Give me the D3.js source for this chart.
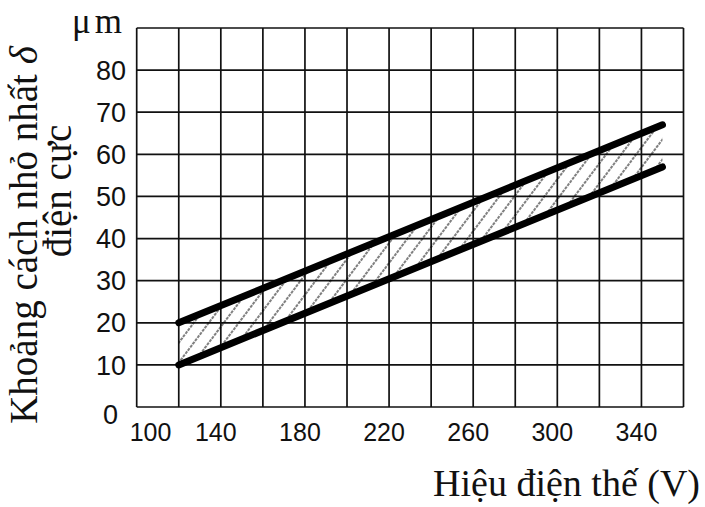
<!DOCTYPE html>
<html><head><meta charset="utf-8">
<script src="https://cdn.jsdelivr.net/npm/d3@7"></script>
<style>html,body{margin:0;padding:0;background:#fff;}svg{display:block;}</style>
</head><body>
<svg id="chart" width="705" height="507"></svg>
<script>
// ---- data ----
const voltage = [120, 350];           // V
const upperBound = [20, 67];          // µm
const lowerBound = [10, 57];          // µm
const xTicks = [100, 140, 180, 220, 260, 300, 340];
const yTicks = [0, 10, 20, 30, 40, 50, 60, 70, 80];
const yUnit = "\u03bcm";
const xTitle = "Hiệu điện thế (V)";
const yTitle1 = "Khoảng cách nhỏ nhất ";
const yTitle2 = "điện cực";

const svg = d3.select("#chart");
const x = d3.scaleLinear().domain([100, 360]).range([136.7, 683.5]);
const y = d3.scaleLinear().domain([0, 90]).range([407, 28]);

// hatch pattern
const defs = svg.append("defs");
const pat = defs.append("pattern").attr("id", "hatch").attr("patternUnits", "userSpaceOnUse")
  .attr("width", 12).attr("height", 12).attr("patternTransform", "rotate(37)");
pat.append("line").attr("x1", 1).attr("y1", 0).attr("x2", 1).attr("y2", 12)
  .attr("stroke", "#000").attr("stroke-width", 1).attr("stroke-dasharray", "3,1");

// grid
const grid = svg.append("g").attr("stroke", "#111").attr("stroke-width", 1.7);
grid.selectAll("line.v").data(d3.range(100, 361, 20)).join("line")
  .attr("x1", d => x(d)).attr("x2", d => x(d)).attr("y1", y(0)).attr("y2", y(90));
grid.selectAll("line.h").data(d3.range(0, 91, 10)).join("line")
  .attr("x1", x(100)).attr("x2", x(360)).attr("y1", d => y(d)).attr("y2", d => y(d));

// band
const band = voltage.map((v, i) => ({v, lo: lowerBound[i], hi: upperBound[i]}));
svg.append("path").datum(band)
  .attr("d", d3.area().x(d => x(d.v)).y0(d => y(d.lo)).y1(d => y(d.hi)))
  .attr("fill", "url(#hatch)");

const line = d3.line().x(d => x(d[0])).y(d => y(d[1]));
[upperBound, lowerBound].forEach(s => {
  svg.append("path").datum(voltage.map((v, i) => [v, s[i]]))
    .attr("d", line).attr("fill", "none").attr("stroke", "#000")
    .attr("stroke-width", 7).attr("stroke-linecap", "round");
});

// y tick labels
svg.append("g").selectAll("text").data(yTicks).join("text")
  .attr("x", d => d === 0 ? 118 : 126)
  .attr("y", d => y(d) + (d === 0 ? 7 : 0))
  .attr("dy", "0.36em")
  .attr("text-anchor", "end")
  .attr("font-family", "Liberation Sans, Arial, sans-serif")
  .attr("font-size", 27).attr("fill", "#111")
  .text(d => d);

// x tick labels
svg.append("g").selectAll("text").data(xTicks).join("text")
  .attr("x", (d, i) => i === 0 ? x(d) - 7 : x(d) - 5)
  .attr("y", 441)
  .attr("text-anchor", (d, i) => i === 0 ? "start" : "middle")
  .attr("font-family", "Liberation Sans, Arial, sans-serif")
  .attr("font-size", 25).attr("fill", "#111")
  .text(d => d);

// unit
svg.append("text").attr("x", 126).attr("y", 33).attr("text-anchor", "end")
  .attr("font-family", "Liberation Serif, Times New Roman, serif")
  .attr("font-size", 35).attr("letter-spacing", 4).attr("fill", "#111")
  .text(yUnit);

// x title
svg.append("text").attr("x", 700).attr("y", 496).attr("text-anchor", "end")
  .attr("font-family", "Liberation Serif, Times New Roman, serif")
  .attr("font-size", 38).attr("fill", "#111")
  .text(xTitle);

// y title
const t1 = svg.append("text").attr("transform", "translate(37,235) rotate(-90)")
  .attr("text-anchor", "middle")
  .attr("font-family", "Liberation Serif, Times New Roman, serif")
  .attr("font-size", 39).attr("fill", "#111");
t1.append("tspan").text(yTitle1);
t1.append("tspan").attr("font-style", "italic").text("\u03b4");
svg.append("text").attr("transform", "translate(71,191) rotate(-90)")
  .attr("text-anchor", "middle")
  .attr("font-family", "Liberation Serif, Times New Roman, serif")
  .attr("font-size", 39).attr("fill", "#111")
  .text(yTitle2);
</script>
</body></html>
